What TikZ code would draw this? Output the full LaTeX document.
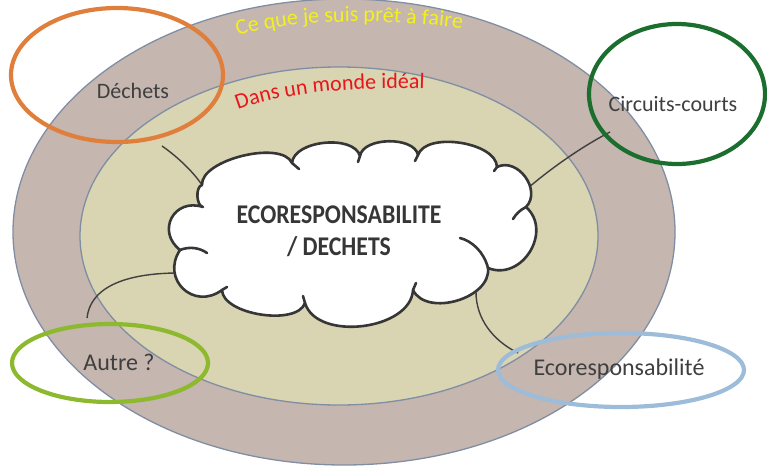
\documentclass[tikz,border=0pt]{standalone}
\usepackage{fontspec}
\setmainfont{Carlito}
\usetikzlibrary{decorations.text}
\definecolor{outerfill}{HTML}{C5B6AF}
\definecolor{innerfill}{HTML}{D9D4B2}
\definecolor{ringline}{HTML}{7F8EA3}
\definecolor{cloudline}{HTML}{363636}
\definecolor{linkline}{HTML}{404040}
\definecolor{labeltext}{HTML}{3F3F3F}
\definecolor{orangering}{HTML}{E07E3C}
\definecolor{greenring}{HTML}{1B6E2E}
\definecolor{limering}{HTML}{8DB92E}
\definecolor{bluering}{HTML}{9CBCDA}
\definecolor{yellowtxt}{HTML}{F2F21A}
\definecolor{redtxt}{HTML}{E8161B}
\begin{document}
\begin{tikzpicture}[x=1pt,y=-1pt,
  ring/.style={line width=4.2pt},
  lbl/.style={text=labeltext,inner sep=0pt},
  link/.style={draw=linkline,line width=1.4pt},
  cloudstroke/.style={draw=cloudline,line width=2.6pt,line join=round,line cap=round},
  bump/.style={bend left=80,looseness=#1}]
\useasboundingbox (0,0) rectangle (767,466);
% zones
\filldraw[fill=outerfill,draw=ringline,line width=1.3pt] (344,232) ellipse [x radius=331pt,y radius=233pt];
\filldraw[fill=innerfill,draw=ringline,line width=1.3pt] (339,236) ellipse [x radius=259pt,y radius=169pt];
% cloud cusps
\coordinate (c1) at (202,185);
\coordinate (c2) at (292,163);
\coordinate (c3) at (360,156);
\coordinate (c4) at (418,155);
\coordinate (c5) at (497,167);
\coordinate (c6) at (526,207);
\coordinate (c7) at (488,268);
\coordinate (c8) at (413,290);
\coordinate (c9) at (305,303);
\coordinate (c10) at (222,290);
\coordinate (c11) at (180,250);
\coordinate (c12) at (203,207);
% connector ends
\coordinate (dechEnd) at (162,146);
\coordinate (circEnd) at (610,132);
\coordinate (circStart) at (528,188);
\coordinate (autreEnd) at (87,318);
\coordinate (autreStart) at (185,273);
\coordinate (ecoStart) at (476,292);
\coordinate (ecoEnd) at (518,353);
% connectors
\draw[link] (dechEnd) .. controls (175,155) and (192,170) .. (c1);
\draw[link] (circEnd) .. controls (585,145) and (555,165) .. (circStart);
\draw[link] (autreEnd) .. controls (90,290) and (120,272) .. (autreStart);
\draw[link] (ecoStart) .. controls (476,318) and (492,340) .. (ecoEnd);
% cloud
\filldraw[fill=white,cloudstroke] (c1) to[bump=0.7] (c2) to[bump=0.85] (c3) to[bump=0.85] (c4)
  to[bump=0.8] (c5) to[bump=1.2] (c6) to[bump=1.3] (c7) to[bump=1.0] (c8)
  to[bump=0.95] (c9) to[bump=0.75] (c10) to[bump=1.55] (c11) to[bump=1.6] (c12)
  to[bump=0.8] (c1) -- cycle;
\draw[cloudstroke] (c6) .. controls (520,210) and (516,214) .. (513,219);
\draw[cloudstroke] (c7) .. controls (484,252) and (472,241) .. (460,238);
\draw[cloudstroke] (c11) .. controls (190,246) and (200,248) .. (207,253);
\draw[cloudstroke] (c2) -- (299,169);
\draw[cloudstroke] (c3) -- (358,162);
\draw[cloudstroke] (c4) -- (415,161);
\draw[cloudstroke] (c5) -- (494,171);
\draw[cloudstroke] (c8) -- (416,283);
\draw[cloudstroke] (c9) -- (303,296);
\draw[cloudstroke] (c10) -- (227,287);
\node[align=center,text=cloudline,font=\bfseries\fontsize{27}{32}\selectfont,inner sep=0pt] (core) at (339,231)
  {\scalebox{0.88}[1]{ECORESPONSABILITE}\\\scalebox{0.88}[1]{/ DECHETS}};
% zone titles
\path[decorate,decoration={text along path,text align=left,
  text={|\fontsize{22}{26}\selectfont\color{yellowtxt}|Ce que je suis prêt à faire}}]
  (238,36) .. controls (300,16) and (410,19) .. (495,33);
\path[decorate,decoration={text along path,text align=left,
  text={|\fontsize{22}{26}\selectfont\color{redtxt}|Dans un monde idéal}}]
  (238,110) .. controls (290,90) and (370,86) .. (445,90);
% topic rings
\draw[ring,orangering] (117,75) ellipse [x radius=106pt,y radius=67pt];
\draw[ring,greenring] (677,94) ellipse [x radius=88pt,y radius=70pt];
\draw[ring,limering] (110,363) ellipse [x radius=98pt,y radius=39pt];
\draw[ring,bluering] (621,370) ellipse [x radius=123pt,y radius=37pt];
% labels
\node[lbl,font=\fontsize{22}{26}\selectfont] (dechets) at (133,91) {Déchets};
\node[lbl,font=\fontsize{22}{26}\selectfont] (circuits) at (673,104) {Circuits-courts};
\node[lbl,font=\fontsize{24}{28}\selectfont] (autre) at (119,362) {Autre ?};
\node[lbl,font=\fontsize{24}{28}\selectfont] (ecoresp) at (619,369) {Ecoresponsabilité};
\end{tikzpicture}
\end{document}
